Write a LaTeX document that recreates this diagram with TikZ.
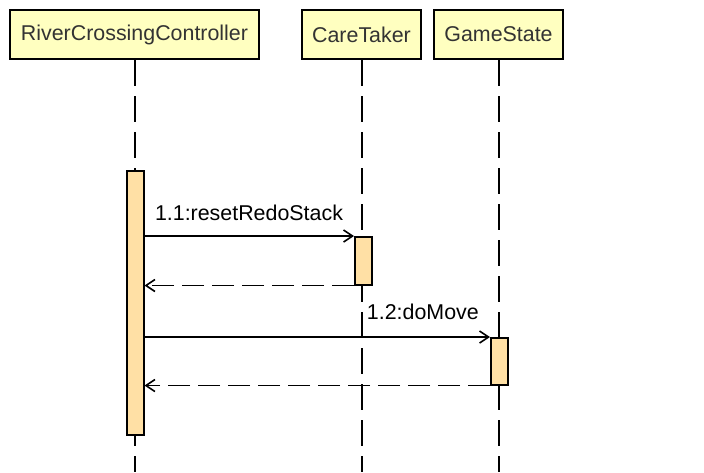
\documentclass[tikz,border=0pt]{standalone}
\usepackage{fontspec}
\setmainfont{Liberation Sans}
\usetikzlibrary{arrows.meta}
\definecolor{boxfill}{HTML}{FFFFC0}
\definecolor{actfill}{HTML}{FFE0A5}
\definecolor{boxtext}{HTML}{333333}
\begin{document}
\begin{tikzpicture}[x=1pt,y=-1pt,
  font=\fontsize{21.4}{25}\selectfont,
  objbox/.style={draw=black, line width=2pt, fill=boxfill, text=boxtext,
    minimum height=49pt, inner sep=0pt, anchor=center},
  lifeline/.style={line width=2pt, dash pattern=on 26pt off 10pt},
  actbar/.style={draw=black, line width=1.5pt, fill=actfill, inner sep=0pt,
    minimum width=17pt, anchor=north west},
  msg/.style={line width=1.6pt, -{Straight Barb[length=9pt,width=12pt]}},
  ret/.style={msg, dash pattern=on 22pt off 8pt},
  lbl/.style={inner sep=0pt, text=black}]
\useasboundingbox (0,0) rectangle (704,472);
% objects
\node[objbox, minimum width=249pt] (rcc) at (134.5,34.5) {RiverCrossingController};
\node[objbox, minimum width=119pt] (ct) at (361.5,34.5) {CareTaker};
\node[objbox, minimum width=129pt] (gs) at (498.5,34.5) {GameState};
% lifeline ends
\coordinate (rccEnd) at (134.5,472);
\coordinate (ctEnd) at (361.5,472);
\coordinate (gsEnd) at (498.5,472);
\draw[lifeline] (rcc.south) -- (rccEnd);
\draw[lifeline] (ct.south) -- (ctEnd);
\draw[lifeline] (gs.south) -- (gsEnd);
% activation bars
\node[actbar, minimum height=264pt] (a1) at (126,170) {};
\node[actbar, minimum height=48pt] (a2) at (354,236) {};
\node[actbar, minimum height=47pt] (a3) at (490,337) {};
% messages
\draw[msg] (a1.east |- a2.north west) -- (a2.north west);
\draw[ret] (a2.south west) -- (a2.south west -| a1.east);
\draw[msg] (a1.east |- a3.north west) -- (a3.north west);
\draw[ret] (a3.south west) -- (a3.south west -| a1.east);
% labels
\node[lbl, anchor=base] (l1) at (249,220) {1.1:resetRedoStack};
\node[lbl, anchor=base east] (l2) at (479,319) {1.2:doMove};
\end{tikzpicture}
\end{document}
